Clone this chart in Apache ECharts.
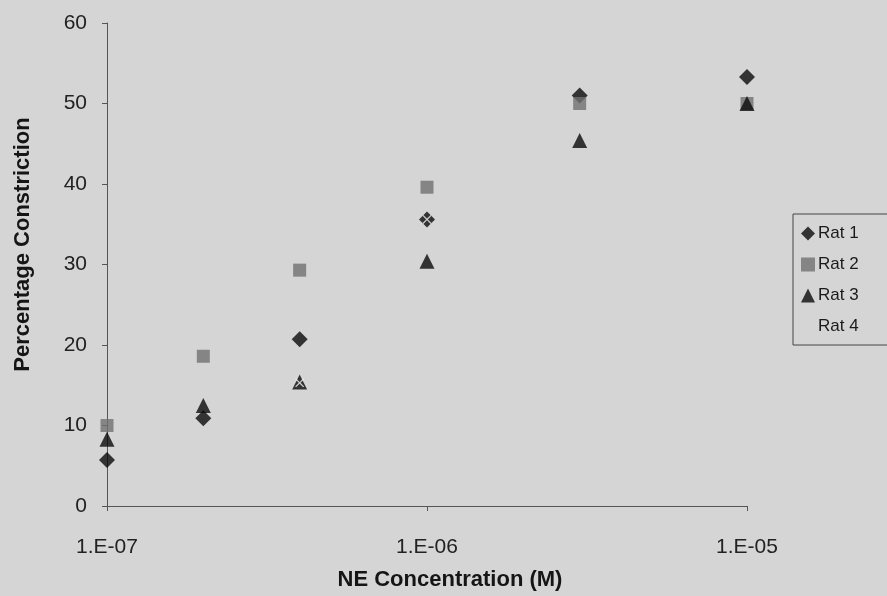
<!DOCTYPE html>
<html>
<head>
<meta charset="utf-8">
<script src="https://cdn.jsdelivr.net/npm/echarts@6/dist/echarts.min.js"></script>
<style>
  html, body { margin: 0; padding: 0; background: #d5d5d5; }
  #chart { width: 887px; height: 596px; }
</style>
</head>
<body>
<div id="chart"></div>
<script>
// NE concentrations (M) tested on each vessel
const concentrations = [1e-7, 2e-7, 4e-7, 1e-6, 3e-6, 1e-5];

// Percentage constriction per rat (null = no visible point)
const rat1 = [5.7, 10.9, 20.7, 35.6, 51.0, 53.3];
const rat2 = [10.0, 18.6, 29.3, 39.6, 50.0, 50.0];
const rat3 = [8.3, 12.5, 15.4, 30.4, 45.4, 50.0];
const rat4 = [null, null, 15.3, 35.6, null, null];

const seriesNames = ['Rat 1', 'Rat 2', 'Rat 3', 'Rat 4'];
const xTickLabels = ['1.E-07', '1.E-06', '1.E-05'];
const yTicks = [0, 10, 20, 30, 40, 50, 60];

function pairs(values) {
  return concentrations
    .map((c, i) => [c, values[i]])
    .filter(p => p[1] !== null);
}

const crossPath = 'path://M1,0 L5,4 L9,0 L10,1 L6,5 L10,9 L9,10 L5,6 L1,10 L0,9 L4,5 L0,1 Z';

const chart = echarts.init(document.getElementById('chart'), null, { renderer: 'canvas' });

const font = 'Liberation Sans, Arial, sans-serif';
const bg = '#d5d5d5';

chart.setOption({
  backgroundColor: bg,
  animation: false,
  textStyle: { fontFamily: font },
  grid: { left: 107, top: 23, width: 640, height: 485, containLabel: false },
  xAxis: {
    type: 'log',
    logBase: 10,
    min: concentrations[0],
    max: concentrations[concentrations.length - 1],
    name: 'NE Concentration (M)',
    nameLocation: 'middle',
    nameGap: 63,
    nameTextStyle: {
      fontFamily: font, fontSize: 22, fontWeight: 'bold', color: '#151515',
      padding: [0, 0, 0, 46]
    },
    axisLine: { lineStyle: { color: '#555', width: 1 } },
    axisTick: { show: true, length: 5, lineStyle: { color: '#555' } },
    splitLine: { show: false },
    minorTick: { show: false },
    axisLabel: {
      fontFamily: font,
      fontSize: 21,
      color: '#222',
      margin: 31,
      formatter: v => {
        const idx = Math.round(Math.log10(v / concentrations[0]));
        return xTickLabels[idx] || '';
      }
    }
  },
  yAxis: {
    type: 'value',
    min: yTicks[0],
    max: yTicks[yTicks.length - 1],
    interval: yTicks[1] - yTicks[0],
    name: 'Percentage Constriction',
    nameLocation: 'middle',
    nameGap: 73,
    nameRotate: 90,
    nameTextStyle: {
      fontFamily: font, fontSize: 22, fontWeight: 'bold', color: '#151515',
      padding: [0, 0, 0, 40]
    },
    axisLine: { show: true, lineStyle: { color: '#555', width: 1 } },
    axisTick: { show: true, length: 5, lineStyle: { color: '#555' } },
    splitLine: { show: false },
    axisLabel: { fontFamily: font, fontSize: 21, color: '#222', margin: 20 }
  },
  legend: {
    orient: 'vertical',
    left: 793,
    top: 214,
    itemWidth: 14,
    itemHeight: 14,
    itemGap: 14,
    padding: [11, 40, 10, 8],
    borderColor: '#444',
    borderWidth: 1,
    backgroundColor: bg,
    textStyle: { fontFamily: font, fontSize: 17, color: '#1a1a1a', padding: [0, 0, 0, -2] },
    data: [
      { name: seriesNames[0] },
      { name: seriesNames[1] },
      { name: seriesNames[2] },
      { name: seriesNames[3], icon: 'none' }
    ]
  },
  series: [
    {
      name: seriesNames[0], type: 'scatter', symbol: 'diamond', symbolSize: 16,
      itemStyle: { color: '#0a0a0a' }, data: pairs(rat1)
    },
    {
      name: seriesNames[1], type: 'scatter', symbol: 'rect', symbolSize: 13,
      itemStyle: { color: '#707070' }, data: pairs(rat2)
    },
    {
      name: seriesNames[2], type: 'scatter', symbol: 'triangle', symbolSize: 15,
      itemStyle: { color: '#0a0a0a' }, data: pairs(rat3)
    },
    {
      name: seriesNames[3], type: 'scatter', symbol: crossPath, symbolSize: 9,
      itemStyle: { color: '#f2f2f2' }, data: pairs(rat4)
    }
  ]
});
</script>
</body>
</html>
